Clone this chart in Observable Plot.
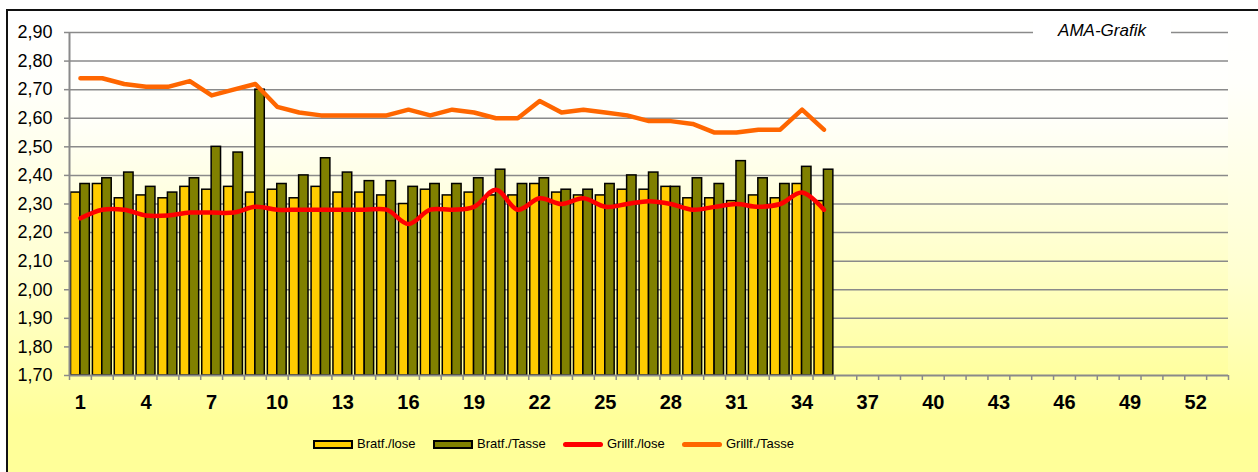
<!DOCTYPE html>
<html>
<head>
<meta charset="utf-8">
<script src="https://cdn.jsdelivr.net/npm/d3@7"></script>
<script src="https://cdn.jsdelivr.net/npm/@observablehq/plot@0.6"></script>
<style>
  html, body { margin: 0; padding: 0; background: #ffffff; }
  body { font-family: Arial, "Liberation Sans", sans-serif; }
  #wrap { position: relative; width: 1258px; height: 472px; overflow: hidden; }
  #chartArea { position: absolute; left: 6px; top: 9px; width: 1270px; height: 480px;
    border-left: 2.5px solid #111; border-top: 2.5px solid #111;
    background: linear-gradient(to bottom, #ffffff 0%, #fffffb 15%, #ffffd0 55%, #ffff99 85%, #ffff99 100%); }
  #plotArea { position: absolute; left: 69px; top: 32px; width: 1159px; height: 343px;
    background: linear-gradient(to bottom, #ffffff 0%, #fffffa 25%, #ffffcc 65%, #ffff9f 100%); }
  #plot { position: absolute; left: 0; top: 0; }
  #ama { position: absolute; left: 1033px; top: 20px; width: 138px; height: 22px; line-height: 22px;
    text-align: center; font-style: italic; font-size: 17px; color: #000; background: #ffffff; }
  .sw { position: absolute; box-sizing: border-box; }
  .lt { position: absolute; font-size: 13px; color: #000; line-height: 16px; top: 436px; }
</style>
</head>
<body>
<div id="wrap">
  <div id="chartArea"></div>
  <div id="plotArea"></div>
  <div id="plot"></div>
  <div id="ama">AMA-Grafik</div>
  <div class="sw" style="left:313px;top:440px;width:40px;height:9px;background:#FFCC00;border:2px solid #000;"></div>
  <div class="lt" style="left:357px;">Bratf./lose</div>
  <div class="sw" style="left:433px;top:440px;width:40px;height:9px;background:#808000;border:2px solid #000;"></div>
  <div class="lt" style="left:477px;">Bratf./Tasse</div>
  <div class="sw" style="left:563px;top:442px;width:40px;height:4.5px;background:#FF0000;border-radius:3px;"></div>
  <div class="lt" style="left:607px;">Grillf./lose</div>
  <div class="sw" style="left:682px;top:442px;width:40px;height:4.5px;background:#FF6600;border-radius:3px;"></div>
  <div class="lt" style="left:726px;">Grillf./Tasse</div>
</div>
<script>
// ---- data ----
const weeks = [1,2,3,4,5,6,7,8,9,10,11,12,13,14,15,16,17,18,19,20,21,22,23,24,25,26,27,28,29,30,31,32,33,34,35];
const bratfLose  = [2.34,2.37,2.32,2.33,2.32,2.36,2.35,2.36,2.34,2.35,2.32,2.36,2.34,2.34,2.33,2.30,2.35,2.33,2.34,2.33,2.33,2.37,2.34,2.33,2.33,2.35,2.35,2.36,2.32,2.32,2.31,2.33,2.32,2.37,2.31];
const bratfTasse = [2.37,2.39,2.41,2.36,2.34,2.39,2.50,2.48,2.70,2.37,2.40,2.46,2.41,2.38,2.38,2.36,2.37,2.37,2.39,2.42,2.37,2.39,2.35,2.35,2.37,2.40,2.41,2.36,2.39,2.37,2.45,2.39,2.37,2.43,2.42];
const grillLose  = [2.25,2.28,2.28,2.26,2.26,2.27,2.27,2.27,2.29,2.28,2.28,2.28,2.28,2.28,2.28,2.23,2.28,2.28,2.29,2.35,2.28,2.32,2.30,2.32,2.29,2.30,2.31,2.30,2.28,2.29,2.30,2.29,2.30,2.34,2.28];
const grillTasse = [2.74,2.74,2.72,2.71,2.71,2.73,2.68,2.70,2.72,2.64,2.62,2.61,2.61,2.61,2.61,2.63,2.61,2.63,2.62,2.60,2.60,2.66,2.62,2.63,2.62,2.61,2.59,2.59,2.58,2.55,2.55,2.56,2.56,2.63,2.56];
const xTickLabels = [1,4,7,10,13,16,19,22,25,28,31,34,37,40,43,46,49,52];
const yTicks = [1.70,1.80,1.90,2.00,2.10,2.20,2.30,2.40,2.50,2.60,2.70,2.80,2.90];
const nCategories = 53;

// ---- table ----
const rows = weeks.map((w, i) => ({
  week: w, bratfLose: bratfLose[i], bratfTasse: bratfTasse[i],
  grillLose: grillLose[i], grillTasse: grillTasse[i]
}));
const yMin = yTicks[0], yMax = yTicks[yTicks.length - 1];
const xLo = 0.5, xHi = nCategories + 0.5;
const boundaries = d3.range(0, nCategories + 1).map(k => k + 0.5);
const half = 0.43;
const grey = "#8a8a8a";

const chart = Plot.plot({
  width: 1258,
  height: 420,
  marginLeft: 69,
  marginRight: 30,
  marginTop: 32,
  marginBottom: 45,
  style: { background: "transparent", fontFamily: "Arial, 'Liberation Sans', sans-serif", color: "#000" },
  x: { type: "linear", domain: [xLo, xHi] },
  y: { domain: [yMin, yMax] },
  marks: [
    Plot.ruleY(yTicks.slice(1), { stroke: grey, strokeWidth: 1.5 }),
    Plot.rect(rows, { x1: d => d.week - half, x2: d => d.week, y1: yMin, y2: "bratfLose",
      fill: "#FFCC00", stroke: "#000", strokeWidth: 1.5 }),
    Plot.rect(rows, { x1: d => d.week, x2: d => d.week + half, y1: yMin, y2: "bratfTasse",
      fill: "#808000", stroke: "#000", strokeWidth: 1.5 }),
    Plot.line(rows, { x: "week", y: "grillLose", stroke: "#FF0000", strokeWidth: 4.5,
      curve: "catmull-rom", strokeLinecap: "round", strokeLinejoin: "round" }),
    Plot.line(rows, { x: "week", y: "grillTasse", stroke: "#FF6600", strokeWidth: 4.5,
      strokeLinecap: "round", strokeLinejoin: "round" }),
    Plot.ruleX([xLo], { stroke: grey, strokeWidth: 2 }),
    Plot.ruleY([yMin], { stroke: grey, strokeWidth: 2 }),
    Plot.axisY({ ticks: yTicks, tickFormat: d => d.toFixed(2).replace(".", ","), tickSize: 5,
      tickPadding: 12, fontSize: 18, stroke: grey, strokeWidth: 1.5, label: null }),
    Plot.axisX({ ticks: boundaries, tickFormat: () => "", tickSize: 5, stroke: grey, strokeWidth: 1.5, label: null }),
    Plot.axisX({ ticks: xTickLabels, tickFormat: d => String(d), tickSize: 0, tickPadding: 19,
      fontSize: 20, fontWeight: "bold", label: null })
  ]
});
document.getElementById("plot").appendChild(chart);
</script>
</body>
</html>
